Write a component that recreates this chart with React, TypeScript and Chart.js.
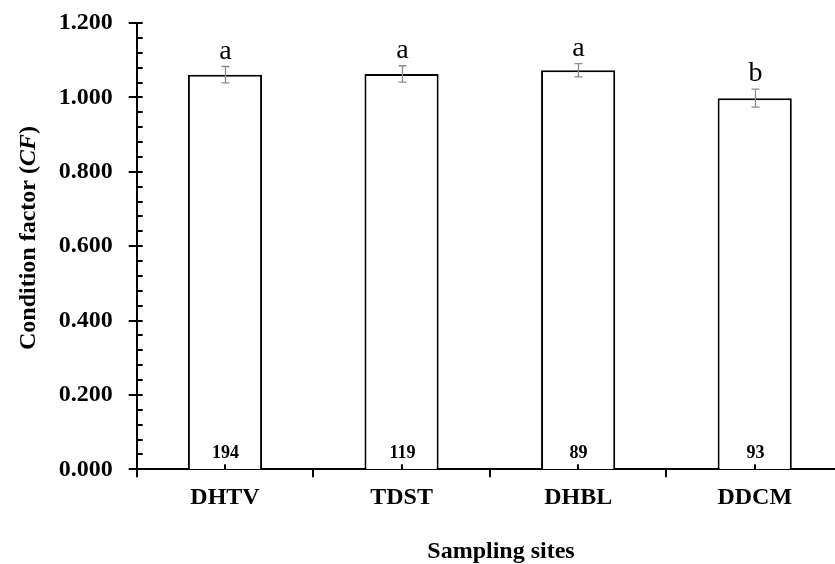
import React, { useEffect, useRef } from "react";
import { Chart, registerables } from "chart.js";

Chart.register(...registerables);

const categories = ["DHTV", "TDST", "DHBL", "DDCM"];
const means = [1.061, 1.063, 1.073, 0.998];
const errors = [0.022, 0.022, 0.018, 0.024];
const letters = ["a", "a", "a", "b"];
const counts = [194, 119, 89, 93];
const yTicksMax = 1.2;
const yStep = 0.2;
const yMinorStep = 0.04;

const SERIF = "'Liberation Serif', 'Times New Roman', serif";

const decorations = {
  id: "decorations",
  afterDraw(chart: any) {
    const { ctx, chartArea, scales } = chart;
    const x = scales.x;
    const y = scales.y;
    const meta = chart.getDatasetMeta(0);
    ctx.save();
    // y ticks
    ctx.strokeStyle = "#000";
    ctx.lineWidth = 2;
    const ax = chartArea.left;
    for (let v = 0; v <= yTicksMax + 1e-9; v += yMinorStep) {
      const py = Math.round(y.getPixelForValue(v)) + 0;
      const major = Math.abs(v / yStep - Math.round(v / yStep)) < 1e-6;
      ctx.beginPath();
      ctx.moveTo(major ? ax - 8 : ax, py);
      ctx.lineTo(ax + 6, py);
      ctx.stroke();
    }
    // x ticks
    const by = chartArea.bottom;
    const n = categories.length;
    const cw = (chartArea.right - chartArea.left) / n;
    for (let i = 0; i <= n; i++) {
      const px = Math.round(chartArea.left + i * cw);
      ctx.beginPath();
      ctx.moveTo(px, by);
      ctx.lineTo(px, by + 8);
      ctx.stroke();
    }
    for (let i = 0; i < n; i++) {
      const px = Math.round(x.getPixelForValue(i));
      ctx.beginPath();
      ctx.moveTo(px, by);
      ctx.lineTo(px, by - 5);
      ctx.stroke();
    }
    // error bars, letters, counts
    for (let i = 0; i < n; i++) {
      const bar = meta.data[i];
      const cx = Math.round(bar.x) + 0.5;
      const top = y.getPixelForValue(means[i] + errors[i]);
      const bot = y.getPixelForValue(means[i] - errors[i]);
      ctx.strokeStyle = "#8c8c8c";
      ctx.lineWidth = 1.3;
      ctx.beginPath();
      ctx.moveTo(cx, top);
      ctx.lineTo(cx, bot);
      ctx.moveTo(cx - 4, top);
      ctx.lineTo(cx + 4, top);
      ctx.moveTo(cx - 4, bot);
      ctx.lineTo(cx + 4, bot);
      ctx.stroke();
      ctx.fillStyle = "#000";
      ctx.font = `28px ${SERIF}`;
      ctx.textAlign = "center";
      ctx.textBaseline = "alphabetic";
      ctx.fillText(letters[i], cx, top - 8);
      ctx.font = `bold 18px ${SERIF}`;
      ctx.fillText(String(counts[i]), cx, by - 11);
    }
    // x title
    ctx.fillStyle = "#000";
    ctx.font = `bold 24px ${SERIF}`;
    ctx.textAlign = "center";
    ctx.textBaseline = "alphabetic";
    ctx.fillText("Sampling sites", 501, 558);
    // y title with italic CF
    const parts = [
      { t: "Condition factor (", f: `bold 24px ${SERIF}` },
      { t: "CF", f: `italic bold 24px ${SERIF}` },
      { t: ")", f: `bold 24px ${SERIF}` },
    ];
    let total = 0;
    for (const p of parts) {
      ctx.font = p.f;
      total += ctx.measureText(p.t).width;
    }
    ctx.translate(35, 238);
    ctx.rotate(-Math.PI / 2);
    ctx.textAlign = "left";
    let cur = -total / 2;
    for (const p of parts) {
      ctx.font = p.f;
      ctx.fillText(p.t, cur, 0);
      cur += ctx.measureText(p.t).width;
    }
    ctx.restore();
  },
};

export default function App() {
  const ref = useRef<HTMLCanvasElement>(null);
  useEffect(() => {
    if (!ref.current) return;
    const chart = new Chart(ref.current, {
      type: "bar",
      data: {
        labels: categories,
        datasets: [
          {
            data: means,
            backgroundColor: "#ffffff",
            borderColor: "#000000",
            borderWidth: 2,
            barPercentage: 0.42,
            categoryPercentage: 1,
          },
        ],
      },
      options: {
        responsive: false,
        animation: false,
        devicePixelRatio: 1,
        layout: { padding: { top: 23, right: 1, left: 0, bottom: 0 } },
        plugins: { legend: { display: false }, tooltip: { enabled: false } },
        scales: {
          x: {
            type: "category",
            offset: true,
            grid: { display: false, drawTicks: false },
            border: { display: true, color: "#000", width: 2 },
            ticks: {
              color: "#000",
              padding: 14,
              font: { family: SERIF, size: 24, weight: "bold" },
            },
            afterFit: (s: any) => {
              s.height = 94.7;
              s.paddingLeft = 0;
              s.paddingRight = 0;
            },
          },
          y: {
            min: 0,
            max: yTicksMax,
            grid: { display: false, drawTicks: false },
            border: { display: true, color: "#000", width: 2 },
            ticks: {
              stepSize: yStep,
              color: "#000",
              padding: 24,
              font: { family: SERIF, size: 24, weight: "bold" },
              callback: (v: any) => Number(v).toFixed(3),
            },
            afterFit: (s: any) => {
              s.width = 136.7;
              s.paddingTop = 0;
              s.paddingBottom = 0;
            },
          },
        },
      },
      plugins: [decorations],
    });
    return () => chart.destroy();
  }, []);
  return (
    <div
      style={{
        position: "fixed",
        left: 0,
        top: 0,
        width: 835,
        height: 564,
        overflow: "hidden",
        background: "#fff",
      }}
    >
      <canvas ref={ref} width={844} height={564} style={{ display: "block" }} />
    </div>
  );
}
